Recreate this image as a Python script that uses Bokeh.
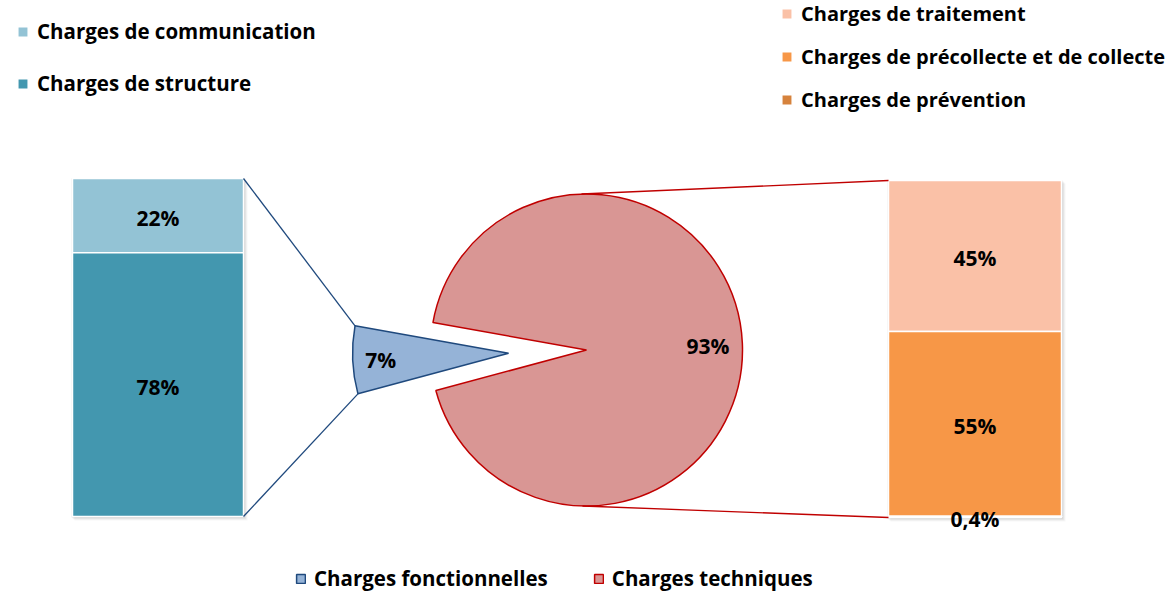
import math
from bokeh.plotting import figure
from bokeh.models import Range1d, Legend, LegendItem, ColumnDataSource
from bokeh.core.properties import value
from bokeh.embed import file_html
from bokeh.resources import INLINE

# ---------------- data ----------------
func_labels = ["Charges de communication", "Charges de structure"]
func_shares = [22, 78]
tech_labels = ["Charges de traitement", "Charges de précollecte et de collecte", "Charges de prévention"]
tech_shares = [45, 55, 0.4]
pie_labels = ["Charges fonctionnelles", "Charges techniques"]
pie_shares = [7, 93]

# ---------------- styles ----------------
func_colors = ["#93C3D5", "#4397AF"]
tech_colors = ["#FAC1A7", "#F79747", "#D6823C"]
pie_fill = ["#95B3D7", "#D99694"]
pie_line = ["#1F497D", "#C00000"]
FONT = "Open Sans"
LEG_SIZE = "20.5px"
LAB_SIZE = "21px"

W, H = 1170, 596

def pct(v):
    s = ("%.1f" % v) if v < 1 else ("%d" % round(v))
    return s.replace(".", ",") + "%"

def Y(sy):
    # top-down layout position -> plot units
    return H - sy

p = figure(width=W, height=H, x_range=Range1d(0, W), y_range=Range1d(0, H),
           output_backend="svg", toolbar_location=None,
           x_axis_location=None, y_axis_location=None, min_border=0)
p.grid.visible = False
p.outline_line_color = None
p.background_fill_color = "white"

# ---------------- layout constants ----------------
LB = dict(x0=72, x1=243, bottom=Y(516), top=Y(178))
RB = dict(x0=888, x1=1061, bottom=Y(517), top=Y(180))
CX, CY, R = 586, Y(349.5), 156
EXPLODE = 78
GAP_DIR = 182.45  # orientation of the small slice (deg)

def stack(shares, box):
    scale = (box["top"] - box["bottom"]) / sum(shares)
    tops, bots = [], []
    cur = box["bottom"]
    for v in reversed(shares):
        bots.append(cur)
        cur += v * scale
        tops.append(cur)
    return list(reversed(bots)), list(reversed(tops))

def draw_bar(shares, labels, colors, box):
    bots, tops = stack(shares, box)
    # soft shadow
    for off, a in [(4, 0.06), (3, 0.09), (2, 0.12), (1, 0.15)]:
        p.quad(left=box["x0"] - 2 + off, right=box["x1"] + off,
               bottom=box["bottom"] - off, top=box["top"] + 1 - off,
               fill_color="#7F7F7F", fill_alpha=a, line_color=None)
    src = ColumnDataSource(dict(
        left=[box["x0"]] * len(shares), right=[box["x1"]] * len(shares),
        bottom=bots, top=tops, color=colors, label=labels,
        ymid=[(b + t) / 2 for b, t in zip(bots, tops)],
        xmid=[(box["x0"] + box["x1"]) / 2] * len(shares),
        txt=[pct(v) for v in shares]))
    r = p.quad(left="left", right="right", bottom="bottom", top="top", source=src,
               fill_color="color", line_color="white", line_width=1.5)
    p.text(x="xmid", y="ymid", text="txt", source=src, text_align="center",
           text_baseline="middle", text_font=value(FONT), text_font_style="bold",
           text_font_size=LAB_SIZE, text_color="black", y_offset=2)
    return r

r_left = draw_bar(func_shares, func_labels, func_colors, LB)
r_right = draw_bar(tech_shares, tech_labels, tech_colors, RB)

# ---------------- pie ----------------
small = pie_shares[0] / sum(pie_shares) * 360
s_start = GAP_DIR - small / 2
s_end = GAP_DIR + small / 2
ex = CX + EXPLODE * math.cos(math.radians(GAP_DIR))
ey = CY + EXPLODE * math.sin(math.radians(GAP_DIR))
pie_src = ColumnDataSource(dict(
    x=[ex, CX], y=[ey, CY],
    start=[math.radians(s_start), math.radians(s_end)],
    end=[math.radians(s_end), math.radians(s_start)],
    fill=pie_fill, line=pie_line, label=pie_labels))
r_pie = p.wedge(x="x", y="y", radius=R, start_angle="start", end_angle="end",
                source=pie_src, fill_color="fill", line_color="line", line_width=1.5)

mids = [GAP_DIR, GAP_DIR + 180]
centers = [(ex, ey), (CX, CY)]
facs = [0.82, 0.78]
p.text(x=[c[0] + f * R * math.cos(math.radians(m)) for c, m, f in zip(centers, mids, facs)],
       y=[c[1] + f * R * math.sin(math.radians(m)) for c, m, f in zip(centers, mids, facs)],
       text=[pct(v) for v in pie_shares], text_align="center", text_baseline="middle",
       text_font=value(FONT), text_font_style="bold", text_font_size=LAB_SIZE,
       text_color="black", y_offset=1)

# ---------------- connectors ----------------
ux = ex + R * math.cos(math.radians(s_start))
uy = ey + R * math.sin(math.radians(s_start))
dx_ = ex + R * math.cos(math.radians(s_end))
dy_ = ey + R * math.sin(math.radians(s_end))
p.segment(x0=[LB["x1"], LB["x1"]], y0=[LB["top"], LB["bottom"]],
          x1=[ux, dx_], y1=[uy, dy_], line_color=pie_line[0], line_width=1.3)
p.segment(x0=[RB["x0"], RB["x0"]], y0=[RB["top"], RB["bottom"]],
          x1=[CX - 5, CX - 4], y1=[CY + R, CY - R], line_color=pie_line[1], line_width=1.3)

# ---------------- legends ----------------
def make_legend(items, x, first_row_sy, n, orientation="vertical", pitch=52, lh=28,
                gw=13, gh=13, size=LEG_SIZE):
    spacing = pitch - lh
    if orientation == "vertical":
        bottom_sy = first_row_sy + (n - 1) * pitch + lh / 2
    else:
        bottom_sy = first_row_sy + lh / 2
    lg = Legend(items=items, location=(x, Y(bottom_sy)), orientation=orientation,
                border_line_color=None, background_fill_alpha=0,
                padding=0, margin=0, spacing=spacing, label_standoff=8,
                glyph_width=gw, glyph_height=gh, label_height=lh,
                label_text_font=FONT, label_text_font_style="bold",
                label_text_font_size=size, label_text_color="black")
    p.add_layout(lg, "center")

make_legend([LegendItem(label=l, renderers=[r_left], index=i) for i, l in enumerate(func_labels)],
            16, 31, len(func_labels), pitch=52)
make_legend([LegendItem(label=l, renderers=[r_right], index=i) for i, l in enumerate(tech_labels)],
            780, 13, len(tech_labels), pitch=43, size="20px")
make_legend([LegendItem(label=l, renderers=[r_pie], index=i) for i, l in enumerate(pie_labels)],
            295, 582, len(pie_labels), orientation="horizontal", pitch=65, lh=20, gw=11, gh=11)

open("out.html", "w").write(file_html(p, INLINE))
